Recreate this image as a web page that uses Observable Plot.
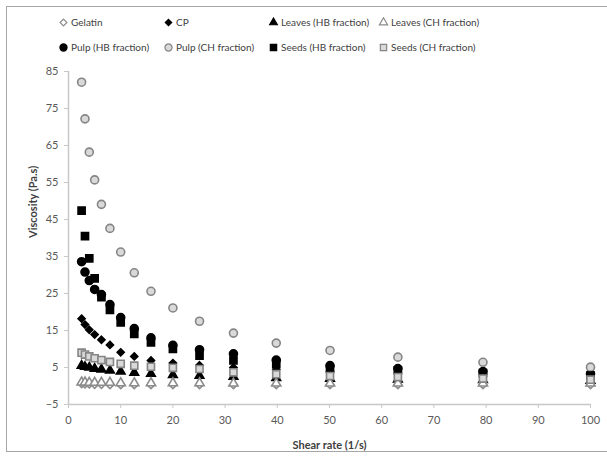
<!DOCTYPE html>
<html>
<head>
<meta charset="utf-8">
<script src="https://cdn.jsdelivr.net/npm/d3@7"></script>
<script src="https://cdn.jsdelivr.net/npm/@observablehq/plot@0.6"></script>
<style>
  html, body { margin: 0; padding: 0; background: #fff; }
  #wrap { position: relative; width: 607px; height: 459px; overflow: hidden; font-family: Lato, "Open Sans", sans-serif; }
  #frame { position: absolute; left: 6px; top: 6px; width: 610px; height: 446px; border: 1.5px solid #a6a6a6; box-sizing: border-box; }
  #chart { position: absolute; left: 0; top: 0; }
  .lg { position: absolute; font-size: 10px; color: #404040; white-space: nowrap; display: flex; align-items: center; }
  .lg svg { margin-right: 2px; }
</style>
</head>
<body>
<div id="wrap">
  <div id="frame"></div>
  <div id="chart"></div>
  <div id="legend"></div>
</div>
<script>
const shear = [2.51, 3.16, 3.98, 5.01, 6.31, 7.94, 10, 12.6, 15.8, 20, 25.1, 31.6, 39.8, 50.1, 63.1, 79.4, 100];
const gelatin = [0.6, 0.5, 0.5, 0.4, 0.4, 0.3, 0.3, 0.3, 0.3, 0.3, 0.3, 0.3, 0.3, 0.3, 0.3, 0.3, 0.3];
const cp = [18.2, 16.6, 15.2, 13.9, 12.5, 11.1, 9.1, 8.0, 6.9, 6.2, 5.6, 5.0, 4.5, 4.0, 3.5, 3.1, 2.7];
const leavesHB = [5.5, 5.2, 5.0, 4.7, 4.5, 4.2, 3.9, 3.6, 3.3, 3.0, 2.8, 2.5, 2.2, 2.0, 1.8, 1.6, 1.4];
const leavesCH = [1.0, 1.0, 0.9, 0.9, 0.9, 0.9, 0.8, 0.8, 0.8, 0.8, 0.8, 0.7, 0.7, 0.7, 0.7, 0.7, 0.7];
const pulpHB = [33.6, 30.8, 28.5, 26.1, 24.7, 22.0, 18.5, 15.5, 13.0, 11.0, 9.8, 8.7, 7.0, 5.5, 4.7, 3.9, 3.3];
const pulpCH = [82.1, 72.2, 63.2, 55.7, 49.1, 42.6, 36.2, 30.6, 25.6, 21.1, 17.5, 14.3, 11.6, 9.6, 7.8, 6.4, 5.1];
const seedsHB = [47.4, 40.5, 34.5, 29.1, 24.0, 20.6, 17.2, 14.1, 11.8, 10.0, 8.2, 6.9, 6.0, 4.6, 4.2, 3.5, 2.8];
const seedsCH = [9.0, 8.5, 8.0, 7.5, 7.0, 6.5, 6.0, 5.5, 5.2, 4.9, 4.6, 3.7, 3.2, 2.7, 2.4, 2.0, 1.7];

const yTicks = [-5, 5, 15, 25, 35, 45, 55, 65, 75, 85];
const xTicks = [0, 10, 20, 30, 40, 50, 60, 70, 80, 90, 100];

const seriesNames = ["Gelatin", "CP", "Leaves (HB fraction)", "Leaves (CH fraction)",
  "Pulp (HB fraction)", "Pulp (CH fraction)", "Seeds (HB fraction)", "Seeds (CH fraction)"];
const seriesValues = [gelatin, cp, leavesHB, leavesCH, pulpHB, pulpCH, seedsHB, seedsCH];

const styles = [
  {symbol: "diamond2", fill: "#ffffff", stroke: "#8c8c8c", r: 3.4},
  {symbol: "diamond2", fill: "#000000", stroke: "#000000", r: 3.2},
  {symbol: "triangle", fill: "#000000", stroke: "#000000", r: 3.2},
  {symbol: "triangle", fill: "#ffffff", stroke: "#8c8c8c", r: 3.4},
  {symbol: "circle", fill: "#000000", stroke: "#000000", r: 4.0},
  {symbol: "circle", fill: "#d9d9d9", stroke: "#858585", r: 4.0},
  {symbol: "square", fill: "#000000", stroke: "#000000", r: 4.0},
  {symbol: "square", fill: "#d9d9d9", stroke: "#858585", r: 4.0}
];

const marks = [];
const axisColor = "#c8c8c8";
marks.push(Plot.ruleY([-5], {stroke: axisColor, strokeWidth: 1.5}));
marks.push(Plot.ruleX([0], {stroke: axisColor, strokeWidth: 1.5}));
marks.push(Plot.axisY(yTicks, {anchor: "left", tickSize: 4, tickPadding: 6, stroke: axisColor, color: "#595959", fontSize: 11, label: null}));
marks.push(Plot.axisX(xTicks, {anchor: "bottom", tickSize: 4, tickPadding: 8, stroke: axisColor, color: "#595959", fontSize: 11, label: null}));

seriesValues.forEach((vals, i) => {
  const data = shear.map((x, j) => ({x, y: vals[j]}));
  const s = styles[i];
  marks.push(Plot.dot(data, {x: "x", y: "y", symbol: () => s.symbol, r: s.r, fill: s.fill, stroke: s.stroke, strokeWidth: 1.6}));
});

const chart = Plot.plot({
  width: 607,
  height: 459,
  marginLeft: 68,
  marginRight: 17,
  marginTop: 71,
  marginBottom: 55,
  x: {domain: [0, 100], axis: null},
  y: {domain: [-5, 85], axis: null},
  symbol: {type: "identity"},
  style: {fontFamily: "Lato, 'Open Sans', sans-serif", background: "transparent", overflow: "visible"},
  marks: [
    ...marks,
    Plot.text(["Viscosity (Pa.s)"], {frameAnchor: "left", dx: -35, rotate: -90, fontWeight: "bold", fontSize: 11, fill: "#404040"}),
    Plot.text(["Shear rate (1/s)"], {frameAnchor: "bottom", dy: 44, fontWeight: "bold", fontSize: 11, fill: "#404040"})
  ]
});
document.getElementById("chart").appendChild(chart);

// legend
const legend = document.getElementById("legend");
const colX = [58, 163, 268, 378];
const rowY = [22, 47];
const symTypes = {diamond2: d3.symbolDiamond2, triangle: d3.symbolTriangle, circle: d3.symbolCircle, square: d3.symbolSquare};
seriesNames.forEach((name, i) => {
  const s = styles[i];
  const el = document.createElement("div");
  el.className = "lg";
  el.style.left = colX[i % 4] + "px";
  el.style.top = (rowY[Math.floor(i / 4)] - 8) + "px";
  el.style.height = "16px";
  const gen = d3.symbol(symTypes[s.symbol], Math.PI * s.r * s.r * 0.8);
  el.innerHTML = `<svg width="11" height="11" viewBox="-5.5 -5.5 11 11"><path d="${gen()}" fill="${s.fill}" stroke="${s.stroke}" stroke-width="1.2"/></svg><span>${name}</span>`;
  legend.appendChild(el);
});
</script>
</body>
</html>
